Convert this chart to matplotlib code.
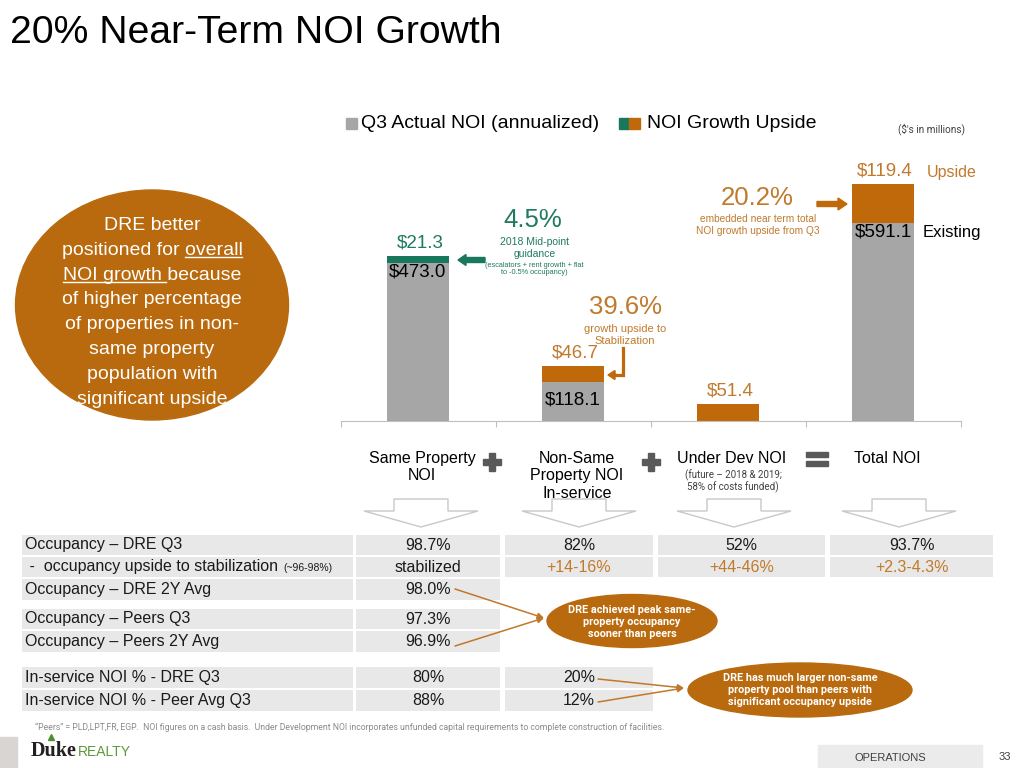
import numpy as np
import matplotlib
matplotlib.use("Agg")
import matplotlib.pyplot as plt
from matplotlib.patches import Rectangle, Ellipse, Polygon, FancyArrow

plt.rcParams['font.family'] = ['Liberation Sans', 'DejaVu Sans']

# ---- data ----
categories = ["Same Property\nNOI", "Non-Same\nProperty NOI\nIn-service", "Under Dev NOI", "Total NOI"]
actual_noi = [473.0, 118.1, 0.0, 591.1]
upside_noi = [21.3, 46.7, 51.4, 119.4]
actual_labels = ["$473.0", "$118.1", "", "$591.1"]
upside_labels = ["$21.3", "$46.7", "$51.4", "$119.4"]

table_labels = ["Occupancy \u2013 DRE Q3",
                " -  occupancy upside to stabilization",
                "Occupancy \u2013 DRE 2Y Avg",
                "Occupancy \u2013 Peers Q3",
                "Occupancy \u2013 Peers 2Y Avg",
                "In-service NOI % - DRE Q3",
                "In-service NOI % - Peer Avg Q3"]
table_values = [["98.7%", "82%", "52%", "93.7%"],
                ["stabilized", "+14-16%", "+44-46%", "+2.3-4.3%"],
                ["98.0%"],
                ["97.3%"],
                ["96.9%"],
                ["80%", "20%"],
                ["88%", "12%"]]

circle_lines = ["DRE better", "positioned for overall", "NOI growth because",
                "of higher percentage", "of properties in non-", "same property",
                "population with", "significant upside"]

GRAY = '#a6a6a6'
GREEN = '#18775c'
ORANGE = '#c0690b'
ORANGE_TXT = '#c17a2c'
GREEN_TXT = '#1f7a60'
CIRCLE = '#b96a0e'
CELL = '#e8e8e8'
NARROW = ['Roboto', 'Liberation Sans', 'DejaVu Sans']

fig = plt.figure(figsize=(10.24, 7.68), dpi=100)

# overlay in pixel coordinates for slide decorations
ov = fig.add_axes([0, 0, 1, 1])
ov.set_xlim(0, 1024)
ov.set_ylim(768, 0)
ov.axis('off')
ov.set_zorder(0)

# ---- bar chart ----
ax = fig.add_axes([340.5 / 1024, (768 - 421) / 768, 620 / 1024, 271 / 768])
ax.set_zorder(1)
ax.patch.set_alpha(0)
x = np.arange(len(categories))
w = 0.406
ax.bar(x, actual_noi, width=w, color=GRAY)
ax.bar(x, upside_noi, bottom=actual_noi, width=w, color=[GREEN, ORANGE, ORANGE, ORANGE])
ax.set_xlim(-0.5, 3.5)
ax.set_ylim(0, 811)
for s in ['top', 'left', 'right']:
    ax.spines[s].set_visible(False)
ax.spines['bottom'].set_color('#bfbfbf')
ax.set_yticks([])
ax.set_xticks(np.arange(-0.5, 4, 1))
ax.set_xticklabels([])
ax.tick_params(axis='x', length=4, color='#bfbfbf', direction='out')

up_col = [GREEN_TXT, ORANGE_TXT, ORANGE_TXT, ORANGE_TXT]
act_off = [-9, -18, 0, -9]
for i in range(len(x)):
    top = actual_noi[i] + upside_noi[i]
    ax.annotate(upside_labels[i], (x[i], top), xytext=(2, 13), textcoords='offset pixels',
                ha='center', va='center', fontsize=13.5, color=up_col[i])
    if actual_labels[i]:
        ax.annotate(actual_labels[i], (x[i], actual_noi[i]), xytext=(0, act_off[i]),
                    textcoords='offset pixels', ha='center', va='center', fontsize=13.5,
                    color='black')

# category labels under the axis
for i, c in enumerate(categories):
    ax.annotate(c, (x[i], 0), xytext=(4, -30), textcoords='offset pixels', ha='center',
                va='top', fontsize=11.5, linespacing=1.2)
ax.annotate("(future \u2013 2018 & 2019;\n58% of costs funded)", (x[2], 0), xytext=(5, -48),
            textcoords='offset pixels', ha='center', va='top', fontsize=7, color='#404040',
            family=NARROW, linespacing=1.1)

# ---- chart annotations ----
ov.text(533, 220, "4.5%", ha='center', va='center', fontsize=18.5, color=GREEN_TXT)
ov.text(535, 248, "2018 Mid-point\nguidance", ha='center', va='center', fontsize=7.5,
        color=GREEN_TXT, linespacing=1.15)
ov.text(534, 269, "(escalators + rent growth + flat\nto -0.5% occupancy)", ha='center',
        va='center', fontsize=5.3, color=GREEN_TXT, linespacing=1.1)
ov.add_patch(FancyArrow(485, 260, -19, 0, width=5, head_width=11, head_length=8,
                        color=GREEN, length_includes_head=False))

ov.text(625, 307, "39.6%", ha='center', va='center', fontsize=18.5, color=ORANGE_TXT)
ov.text(625, 335, "growth upside to\nStabilization", ha='center', va='center', fontsize=8,
        color=ORANGE_TXT, linespacing=1.2)
ov.plot([623, 623, 615], [348, 375, 375], color=ORANGE, lw=2.3, solid_joinstyle='miter')
ov.add_patch(FancyArrow(616, 375, -1, 0, width=2, head_width=9, head_length=7, color=ORANGE))

ov.text(757, 198, "20.2%", ha='center', va='center', fontsize=18.5, color=ORANGE_TXT)
ov.text(758, 225, "embedded near term total\nNOI growth upside from Q3", ha='center',
        va='center', fontsize=7.3, color=ORANGE_TXT, linespacing=1.15)
ov.add_patch(FancyArrow(817, 204, 21, 0, width=5, head_width=12, head_length=9, color=ORANGE))

ov.text(927, 172, "Upside", ha='left', va='center', fontsize=11.5, color=ORANGE_TXT)
ov.text(923, 233, "Existing", ha='left', va='center', fontsize=12, color='black')

# plus / equals signs
for cx in [492, 651]:
    ov.add_patch(Rectangle((cx - 9, 459), 18, 6, color='#595959'))
    ov.add_patch(Rectangle((cx - 3, 453), 6, 18, color='#595959'))
ov.add_patch(Rectangle((806, 452), 22, 5, color='#595959'))
ov.add_patch(Rectangle((806, 461), 22, 5, color='#595959'))

# down chevrons
for cx in [421, 579, 734, 899]:
    pts = [(cx - 27, 499), (cx + 27, 499), (cx + 27, 511), (cx + 57, 511), (cx, 527),
           (cx - 57, 511), (cx - 27, 511)]
    ov.add_patch(Polygon(pts, closed=True, facecolor='white', edgecolor='#c8c8c8', lw=1))

# ---- title & legend ----
ov.text(10, 33, "20% Near-Term NOI Growth", ha='left', va='center', fontsize=28.2, color='black')
ov.add_patch(Rectangle((346, 118), 11, 11, color=GRAY))
ov.text(361, 124, "Q3 Actual NOI (annualized)", ha='left', va='center', fontsize=14)
ov.add_patch(Rectangle((619, 118), 10, 11, color=GREEN))
ov.add_patch(Rectangle((629, 118), 11, 11, color=ORANGE))
ov.text(647, 124, "NOI Growth Upside", ha='left', va='center', fontsize=14)
ov.text(932, 129, "($'s in millions)", ha='center', va='center', fontsize=7.2, color='#404040',
        family=NARROW)

# ---- big circle ----
ov.add_patch(Ellipse((152, 305), 273, 230, color=CIRCLE))
renderer = fig.canvas.get_renderer()
for k, line in enumerate(circle_lines):
    yb = 223 + k * 24.8 + 7
    t = ov.text(152, yb, line, ha='center', va='baseline', fontsize=14, color='white')
    bb = t.get_window_extent(renderer)
    if k == 1:
        tmp = ov.text(0, 0, "overall", fontsize=14)
        wd = tmp.get_window_extent(renderer).width
        tmp.remove()
        ov.plot([bb.x1 - wd, bb.x1], [yb + 2.5, yb + 2.5], color='white', lw=1)
    if k == 2:
        tmp = ov.text(0, 0, "NOI growth", fontsize=14)
        wd = tmp.get_window_extent(renderer).width
        tmp.remove()
        ov.plot([bb.x0, bb.x0 + wd + 4], [yb + 2.5, yb + 2.5], color='white', lw=1)

# ---- table ----
col_edges = [(22, 353), (356, 500), (505, 653), (658, 825), (830, 993)]
row_edges = [(535, 555), (557, 577), (579, 600), (609, 629), (631, 652), (667, 688), (690, 711)]
for r, label in enumerate(table_labels):
    y0, y1 = row_edges[r]
    yc = (y0 + y1) / 2
    ncol = 1 + len(table_values[r])
    for c in range(ncol):
        x0, x1 = col_edges[c]
        ov.add_patch(Rectangle((x0, y0), x1 - x0, y1 - y0, color=CELL, lw=0))
    t = ov.text(25, yc, label, ha='left', va='center', fontsize=11.5, color='#1a1a1a')
    if r == 1:
        bb = t.get_window_extent(renderer)
        ov.text(bb.x1 + 5, yc + 1, "(~96-98%)", ha='left', va='center', fontsize=7.5,
                color='#1a1a1a')
    for c, v in enumerate(table_values[r]):
        x0, x1 = col_edges[c + 1]
        col = ORANGE_TXT if (r == 1 and c > 0) else '#1a1a1a'
        ov.text((x0 + x1) / 2, yc, v, ha='center', va='center', fontsize=11.5, color=col)

# callouts
ov.add_patch(Ellipse((632, 621), 170, 53, color=CIRCLE))
ov.text(632, 622, "DRE achieved peak same-\nproperty occupancy\nsooner than peers", ha='center',
        va='center', fontsize=7.8, color='white', weight='bold', family=NARROW, linespacing=1.3)
ov.add_patch(Ellipse((800, 690), 224, 54, color=CIRCLE))
ov.text(800, 690, "DRE has much larger non-same\nproperty pool than peers with\nsignificant occupancy upside",
        ha='center', va='center', fontsize=7.8, color='white', weight='bold', family=NARROW,
        linespacing=1.3)
for (sx, sy), (ex, ey) in [((455, 589), (544, 618)), ((455, 646), (544, 618)),
                           ((598, 679), (684, 688)), ((598, 702), (684, 688))]:
    ov.annotate("", xy=(ex, ey), xytext=(sx, sy),
                arrowprops=dict(arrowstyle='-|>', color='#c0782a', lw=1.1,
                                mutation_scale=9, shrinkA=0, shrinkB=0))

# ---- footer ----
ov.text(35, 727, "\u201cPeers\u201d = PLD,LPT,FR, EGP.  NOI figures on a cash basis.  Under Development NOI "
        "incorporates unfunded capital requirements to complete construction of facilities.",
        ha='left', va='center', fontsize=6.2, color='#8a8a8a', family=NARROW)
ov.add_patch(Rectangle((0, 737), 17, 31, color='#d8d5d2'))
duke = ov.text(31, 751, "Duke", ha='left', va='center', fontsize=14.5, weight='bold',
               color='#231f20', family=['Liberation Serif', 'DejaVu Serif'])
dbb = duke.get_window_extent(renderer)
ov.text(dbb.x1 + 1, 752, "REALTY", ha='left', va='center', fontsize=10, color='#5c9a3a',
        family=['Liberation Sans', 'DejaVu Sans'])
ov.plot([51], [737], marker='^', color='#4e8f32', markersize=5)
ov.add_patch(Rectangle((818, 745), 164, 23, color='#ebebeb'))
ov.text(890, 758, "OPERATIONS", ha='center', va='center', fontsize=8, color='#404040')
ov.text(1005, 757, "33", ha='center', va='center', fontsize=8, color='#404040')

fig.savefig("out.png", dpi=100)
